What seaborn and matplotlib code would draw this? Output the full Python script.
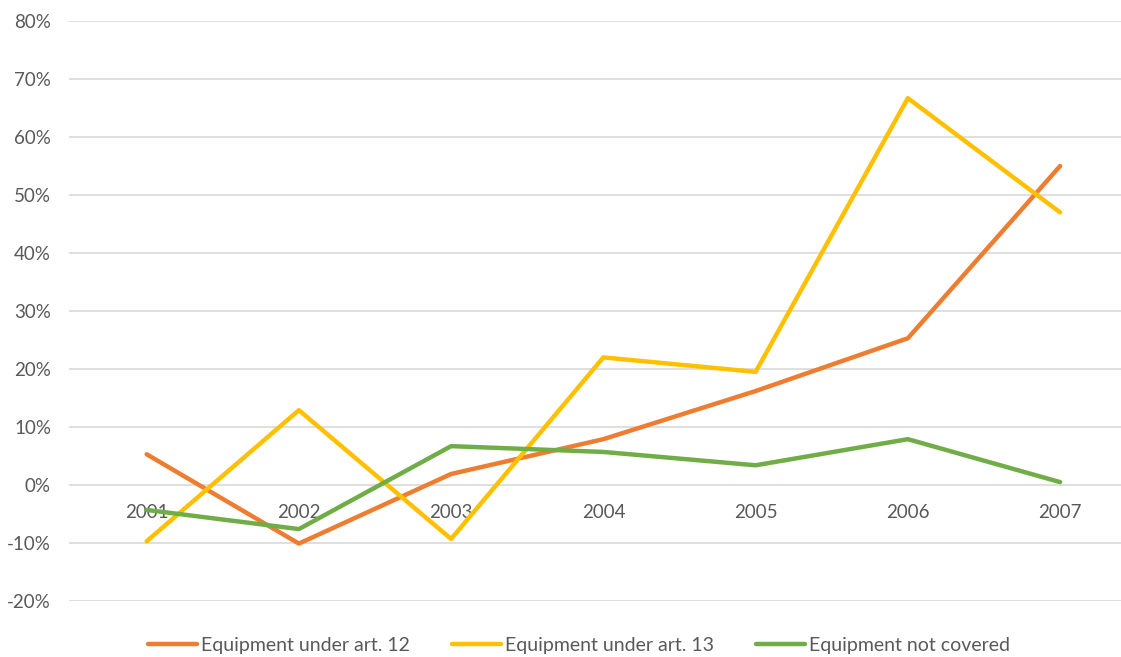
import matplotlib
matplotlib.use("Agg")
import matplotlib.pyplot as plt
import matplotlib.ticker as mticker
import seaborn as sns
import pandas as pd

years = ["2001", "2002", "2003", "2004", "2005", "2006", "2007"]
art12 = [0.053, -0.101, 0.019, 0.079, 0.162, 0.253, 0.550]
art13 = [-0.097, 0.129, -0.093, 0.220, 0.195, 0.667, 0.470]
not_covered = [-0.043, -0.076, 0.067, 0.057, 0.034, 0.079, 0.005]

series_names = ["Equipment under art. 12", "Equipment under art. 13", "Equipment not covered"]
colors = ["#ED7D31", "#FFC000", "#70AD47"]

df = pd.DataFrame({
    "year": years * 3,
    "pos": list(range(len(years))) * 3,
    "value": art12 + art13 + not_covered,
    "series": [series_names[0]] * 7 + [series_names[1]] * 7 + [series_names[2]] * 7,
})

sns.set_style("white")
plt.rcParams["font.family"] = ["Lato", "DejaVu Sans"]

fig = plt.figure(figsize=(11.21, 6.57), dpi=100)
ax = fig.add_axes([69 / 1121, 1 - 601 / 657, 1 - 69 / 1121, (601 - 21) / 657])

sns.lineplot(data=df, x="pos", y="value", hue="series", palette=colors,
             linewidth=3.2, ax=ax, legend=False, sort=False)

ax.set_ylim(-0.2, 0.8)
ax.set_xlim(-0.51, 6.4)
ax.yaxis.set_major_locator(mticker.MultipleLocator(0.1))
ax.yaxis.set_major_formatter(mticker.FuncFormatter(lambda v, p: f"{v * 100:.0f}%"))
ax.set_xticks(range(len(years)))
ax.set_xticklabels(years)
ax.grid(axis="y", color="#d9d9d9", linewidth=1.2)
ax.set_axisbelow(True)
for s in ax.spines.values():
    s.set_visible(False)
ax.spines["bottom"].set_position(("data", 0))
ax.tick_params(axis="x", length=0, pad=14, labelsize=13.5, labelcolor="#595959")
ax.tick_params(axis="y", length=0, pad=13, labelsize=13.5, labelcolor="#595959")
ax.set_xlabel("")
ax.set_ylabel("")

handles = [plt.Line2D([], [], color=c, linewidth=3.2) for c in colors]
fig.legend(handles, series_names, loc="center", bbox_to_anchor=(579 / 1121, 1 - 645 / 657),
           ncol=3, frameon=False, fontsize=14, handlelength=2.5, handletextpad=0.2,
           columnspacing=2.2, labelcolor="#595959")

fig.savefig("out.png", dpi=100)
